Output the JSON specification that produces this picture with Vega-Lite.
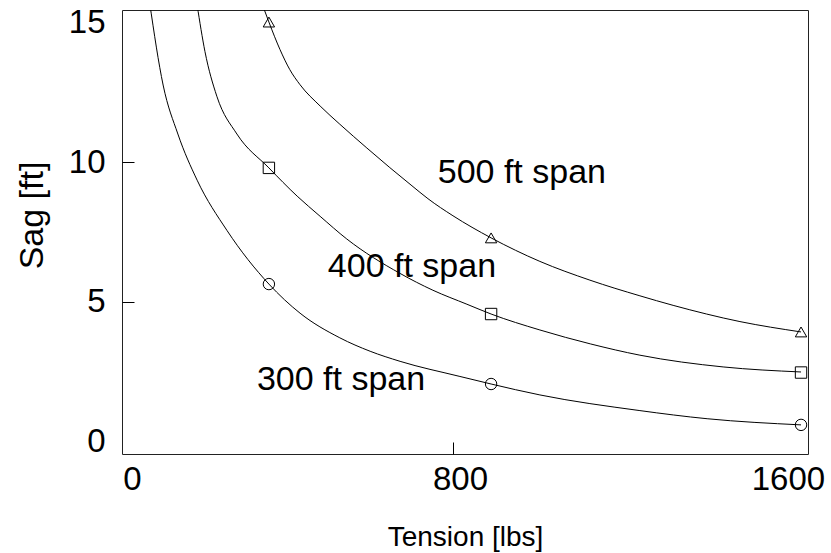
{
  "$schema": "https://vega.github.io/schema/vega-lite/v6.json",
  "width": 686,
  "height": 444,
  "autosize": "none",
  "padding": {"left": 122, "top": 10, "right": 23, "bottom": 99},
  "background": "white",
  "config": {
    "view": {"stroke": "#222", "strokeWidth": 1},
    "font": "Liberation Sans"
  },
  "datasets": {
    "curves": [
      {"span": "300", "t": 60, "sag": 15.7},
      {"span": "300", "t": 93, "sag": 12.75},
      {"span": "300", "t": 129, "sag": 11.0},
      {"span": "300", "t": 176, "sag": 9.35},
      {"span": "300", "t": 249, "sag": 7.55},
      {"span": "300", "t": 351, "sag": 5.64},
      {"span": "300", "t": 427, "sag": 4.6},
      {"span": "300", "t": 524, "sag": 3.72},
      {"span": "300", "t": 598, "sag": 3.24},
      {"span": "300", "t": 671, "sag": 2.88},
      {"span": "300", "t": 817, "sag": 2.34},
      {"span": "300", "t": 893, "sag": 2.07},
      {"span": "300", "t": 1012, "sag": 1.68},
      {"span": "300", "t": 1256, "sag": 1.12},
      {"span": "300", "t": 1420, "sag": 0.83},
      {"span": "300", "t": 1649, "sag": 0.61},
      {"span": "400", "t": 176, "sag": 15.6},
      {"span": "400", "t": 195, "sag": 13.95},
      {"span": "400", "t": 224, "sag": 12.35},
      {"span": "400", "t": 273, "sag": 11.0},
      {"span": "400", "t": 351, "sag": 9.79},
      {"span": "400", "t": 420, "sag": 8.78},
      {"span": "400", "t": 476, "sag": 8.06},
      {"span": "400", "t": 541, "sag": 7.25},
      {"span": "400", "t": 671, "sag": 6.02},
      {"span": "400", "t": 751, "sag": 5.42},
      {"span": "400", "t": 834, "sag": 4.92},
      {"span": "400", "t": 893, "sag": 4.57},
      {"span": "400", "t": 1012, "sag": 4.0},
      {"span": "400", "t": 1136, "sag": 3.5},
      {"span": "400", "t": 1256, "sag": 3.1},
      {"span": "400", "t": 1459, "sag": 2.68},
      {"span": "400", "t": 1649, "sag": 2.5},
      {"span": "500", "t": 339, "sag": 15.47},
      {"span": "500", "t": 351, "sag": 15.0},
      {"span": "500", "t": 378, "sag": 14.02},
      {"span": "500", "t": 402, "sag": 13.3},
      {"span": "500", "t": 427, "sag": 12.76},
      {"span": "500", "t": 476, "sag": 12.0},
      {"span": "500", "t": 524, "sag": 11.35},
      {"span": "500", "t": 590, "sag": 10.5},
      {"span": "500", "t": 646, "sag": 9.8},
      {"span": "500", "t": 700, "sag": 9.15},
      {"span": "500", "t": 739, "sag": 8.69},
      {"span": "500", "t": 800, "sag": 8.08},
      {"span": "500", "t": 893, "sag": 7.29},
      {"span": "500", "t": 1012, "sag": 6.45},
      {"span": "500", "t": 1134, "sag": 5.78},
      {"span": "500", "t": 1256, "sag": 5.22},
      {"span": "500", "t": 1337, "sag": 4.88},
      {"span": "500", "t": 1500, "sag": 4.3},
      {"span": "500", "t": 1649, "sag": 3.93}
    ],
    "markers": [
      {"span": "300", "t": 351, "sag": 5.64},
      {"span": "300", "t": 893, "sag": 2.07},
      {"span": "300", "t": 1649, "sag": 0.61},
      {"span": "400", "t": 351, "sag": 9.79},
      {"span": "400", "t": 893, "sag": 4.57},
      {"span": "400", "t": 1649, "sag": 2.48},
      {"span": "500", "t": 351, "sag": 15.0},
      {"span": "500", "t": 893, "sag": 7.29},
      {"span": "500", "t": 1649, "sag": 3.93}
    ],
    "labels": [
      {"label": "300 ft span", "t": 527, "sag": 1.86},
      {"label": "400 ft span", "t": 700, "sag": 5.89},
      {"label": "500 ft span", "t": 968, "sag": 9.25}
    ]
  },
  "encoding": {
    "x": {
      "field": "t",
      "type": "quantitative",
      "scale": {"domain": [-7.3, 1666], "nice": false, "zero": false},
      "axis": {
        "values": [0, 800, 1600],
        "format": "d",
        "title": "Tension [lbs]",
        "grid": false,
        "domain": false,
        "tickSize": -12,
        "tickColor": "black",
        "tickOpacity": {"condition": {"test": "datum.value == 800", "value": 1}, "value": 0},
        "labelFontSize": 33,
        "labelColor": "black",
        "labelPadding": 21,
        "labelOffset": 7,
        "labelFlush": false,
        "labelOverlap": false,
        "titleFont": "Liberation Sans",
        "titleFontSize": 28,
        "titleFontWeight": "normal",
        "titleColor": "black",
        "titleX": 343,
        "titleY": 91,
        "titleAlign": "center",
        "titleBaseline": "alphabetic"
      }
    },
    "y": {
      "field": "sag",
      "type": "quantitative",
      "scale": {"domain": [-0.43, 15.43], "nice": false, "zero": false},
      "axis": {
        "values": [0, 5, 10, 15],
        "title": "Sag [ft]",
        "grid": false,
        "domain": false,
        "tickSize": -12,
        "tickColor": "black",
        "tickOpacity": {"condition": {"test": "datum.value == 5 || datum.value == 10", "value": 1}, "value": 0},
        "labelFontSize": 33,
        "labelColor": "black",
        "labelPadding": 29,
        "labelFlush": false,
        "labelOverlap": false,
        "titleFontSize": 34,
        "titleFontWeight": "normal",
        "titleColor": "black",
        "titleAngle": -90,
        "titleX": -80,
        "titleY": 205,
        "titleAlign": "center",
        "titleBaseline": "alphabetic"
      }
    }
  },
  "layer": [
    {
      "data": {"name": "curves"},
      "mark": {"type": "line", "interpolate": "monotone", "color": "black", "strokeWidth": 1, "clip": true},
      "encoding": {"detail": {"field": "span", "type": "nominal"}}
    },
    {
      "data": {"name": "markers"},
      "mark": {"type": "point", "filled": false, "color": "black", "strokeWidth": 1, "size": 130, "opacity": 1},
      "encoding": {
        "shape": {
          "field": "span",
          "type": "nominal",
          "scale": {"domain": ["300", "400", "500"], "range": ["circle", "square", "triangle-up"]},
          "legend": null
        }
      }
    },
    {
      "data": {"name": "labels"},
      "mark": {"type": "text", "fontSize": 34, "align": "center", "baseline": "alphabetic", "color": "black"},
      "encoding": {"text": {"field": "label", "type": "nominal"}}
    }
  ]
}
